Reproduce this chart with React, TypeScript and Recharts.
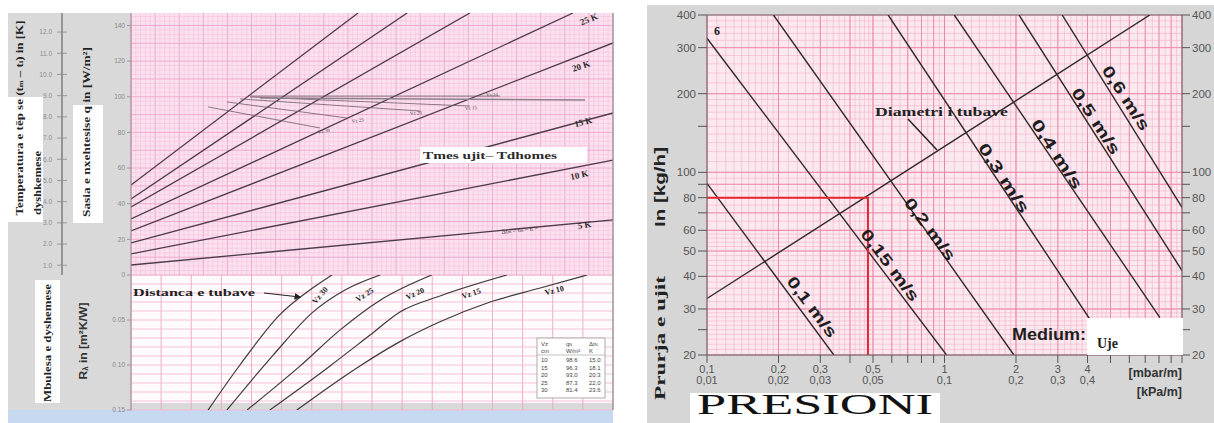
import React from 'react';
import { LineChart, Line, XAxis, YAxis, ReferenceLine } from 'recharts';

// ---------- Upper-left nomogram: heat flux q [W/m²] ----------
const dtNames = ['5 K', '10 K', '15 K', '20 K', '25 K', '30 K', '35 K', '40 K'];
const dtStartQ = [5.6, 11.8, 18.0, 24.7, 31.4, 38.2, 42.6, 50.5];
const dtEndX = [100, 100, 100, 100, 91.7, 70.3, 57.3, 47.1];
const dtEndQ = [30.9, 64.5, 90.9, 130.2, 147, 147, 147, 147];
const qTicks = [0, 20, 40, 60, 80, 100, 120, 140];
const tempTicks = [1, 2, 3, 4, 5, 6, 7, 8, 9, 10, 11, 12];

const vzNames = ['Vz 30', 'Vz 25', 'Vz 20', 'Vz 15', 'Vz 10'];
const vzStartX = [16.0, 19.9, 22.6, 24.7, 24.7];
const vzStartQ = [94.3, 97.1, 98.8, 99.9, 100.4];
const vzEndX = [39.2, 44.8, 60.0, 70.3, 76.6];
const vzEndQ = [82.5, 88.1, 92.0, 94.8, 100.4];
const guideX = [26.8, 94.2];
const guideQ = [99.3, 98.2];

// ---------- Lower-left: floor covering resistance R [m²K/W] ----------
const spacingNames = ['Vz 30', 'Vz 25', 'Vz 20', 'Vz 15', 'Vz 10'];
const spacingX = [
  [16.0, 22.6, 30.9, 37.1, 41.7],
  [19.9, 29.5, 37.8, 44.4, 51.7],
  [24.1, 35.1, 43.4, 51.7, 62.4],
  [28.8, 41.3, 49.6, 55.8, 64.1, 78.0],
  [34.4, 47.5, 55.8, 64.1, 74.5, 84.9, 94.6],
];
const spacingR = [
  [0.15, 0.1, 0.044, 0.0167, 0],
  [0.15, 0.089, 0.041, 0.0167, 0],
  [0.15, 0.101, 0.061, 0.028, 0],
  [0.15, 0.101, 0.0667, 0.041, 0.0233, 0],
  [0.15, 0.101, 0.074, 0.052, 0.03, 0.0144, 0],
];
const rTicks = [0.05, 0.1, 0.15];
const tableVz = ['10', '15', '20', '25', '30'];
const tableQ = ['98.6', '96.3', '93.0', '87.3', '81.4'];
const tableDt = ['15.0', '18.1', '20.3', '22.0', '23.6'];

// ---------- Right: pressure drop nomogram ----------
const velNames = ['0,1 m/s', '0,15 m/s', '0,2 m/s', '0,3 m/s', '0,4 m/s', '0,5 m/s', '0,6 m/s'];
const velFromX = [0.1, 0.1, 0.1905, 0.579, 1.1, 2.06, 3.13];
const velFromY = [90.8, 326, 400, 400, 400, 400, 400];
const velToX = [0.342, 1.02, 1.96, 5.15, 8.07, 10, 10];
const velToY = [20, 20, 20, 20, 27.8, 42.1, 73.4];
const diamX = [0.1, 7.32];
const diamY = [32.9, 400];
const readX = 0.476;
const readY = 80;

const flowTicks = [20, 25, 30, 40, 50, 60, 70, 80, 90, 100, 150, 200, 300, 400];
const flowLabeled = [20, 30, 40, 50, 60, 80, 100, 200, 300, 400];
const dropTicks = [0.1, 0.2, 0.3, 0.4, 0.5, 0.6, 0.7, 0.8, 0.9, 1, 2, 3, 4, 5, 6, 7, 8, 9, 10];
const dropLabelsMbar: Record<string, string> = { '0.1': '0,1', '0.2': '0,2', '0.3': '0,3', '0.5': '0,5', '1': '1', '2': '2', '3': '3', '4': '4' };
const dropLabelsKpa: Record<string, string> = { '0.1': '0,01', '0.2': '0,02', '0.3': '0,03', '0.5': '0,05', '1': '0,1', '2': '0,2', '3': '0,3', '4': '0,4' };

function range(a: number, b: number, step: number) {
  const out: number[] = [];
  for (let v = a; v <= b + 1e-9; v += step) out.push(+v.toFixed(5));
  return out;
}

const ulGridX = range(0, 100, 1);
const ulGridQ = range(0, 147, 2.5);
const llGridX = range(0, 100, 6.25);
const llGridR = range(0, 0.15, 0.01);
const rGridXMinor = [...range(0.1, 0.2, 0.01), ...range(0.2, 0.5, 0.02), ...range(0.5, 1, 0.05), ...range(1, 2, 0.1), ...range(2, 5, 0.2), ...range(5, 10, 0.5)];
const rGridXMajor = [...range(0.1, 1, 0.1), ...range(1, 10, 1)];
const rGridYMinor = [...range(20, 30, 1), ...range(30, 60, 2), ...range(60, 100, 5), ...range(100, 200, 10), ...range(200, 400, 20)];
const rGridYMajor = [20, 30, 40, 50, 60, 70, 80, 90, 100, 200, 300, 400];

const SANS = "'Liberation Sans', Arial, sans-serif";
const SERIF = "'Liberation Serif', 'Times New Roman', serif";

function QTick(props: any) {
  const { x, y, payload } = props;
  return <text x={x} y={y} dy={2.3} textAnchor="end" fontSize={6.5} fill="#8a8a8a" fontFamily={SANS}>{payload.value}</text>;
}
function TempTick(props: any) {
  const { x, y, payload } = props;
  const ax = x + 7;
  return (
    <g>
      <line x1={ax - 5} x2={ax + 5} y1={y} y2={y} stroke="#8a8a8a" strokeWidth={0.8} />
      <text x={x - 3} y={y} dy={2.3} textAnchor="end" fontSize={6.5} fill="#8a8a8a" fontFamily={SANS}>{payload.value}.0</text>
    </g>
  );
}
function RTick(props: any) {
  const { x, y, payload } = props;
  return <text x={x} y={y} dy={2.3} textAnchor="end" fontSize={6.5} fill="#8a8a8a" fontFamily={SANS}>{payload.value.toFixed(2)}</text>;
}
function FlowTickLeft(props: any) {
  const { x, y, payload } = props;
  if (!flowLabeled.includes(payload.value)) return <g />;
  return <text x={x} y={y} dy={4} textAnchor="end" fontSize={11.5} fill="#555" fontFamily={SANS}>{payload.value}</text>;
}
function FlowTickRight(props: any) {
  const { x, y, payload } = props;
  if (!flowLabeled.includes(payload.value)) return <g />;
  return <text x={x} y={y} dy={4} textAnchor="start" fontSize={11.5} fill="#555" fontFamily={SANS}>{payload.value}</text>;
}
function DropTick(props: any) {
  const { x, y, payload } = props;
  const k = String(payload.value);
  if (!dropLabelsMbar[k]) return <g />;
  return (
    <g fontFamily={SANS} fontSize={11} fill="#555">
      <text x={x} y={y} dy={8} textAnchor="middle">{dropLabelsMbar[k]}</text>
      <text x={x} y={y} dy={19} textAnchor="middle">{dropLabelsKpa[k]}</text>
    </g>
  );
}

const abs = (l: number, t: number, w: number, h: number, bg: string): React.CSSProperties => ({
  position: 'absolute', left: l, top: t, width: w, height: h, background: bg,
});

export default function App() {
  const dtLines = dtNames.map((n, i) => ({ name: n, data: [{ x: 0, q: dtStartQ[i] }, { x: dtEndX[i], q: dtEndQ[i] }] }));
  const vzLines = vzNames.map((n, i) => ({ name: n, data: [{ x: vzStartX[i], q: vzStartQ[i] }, { x: vzEndX[i], q: vzEndQ[i] }] }));
  const guide = guideX.map((x, i) => ({ x, q: guideQ[i] }));
  const spacingLines = spacingNames.map((n, i) => ({ name: n, data: spacingX[i].map((x, j) => ({ x, r: spacingR[i][j] })) }));
  const velLines = velNames.map((n, i) => ({ name: n, data: [{ x: velFromX[i], y: velFromY[i] }, { x: velToX[i], y: velToY[i] }] }));
  const diam = diamX.map((x, i) => ({ x, y: diamY[i] }));
  const reading = [{ x: 0.1, y: readY }, { x: readX, y: readY }, { x: readX, y: 20 }];

  return (
    <div style={{ position: 'absolute', left: 0, top: 0, width: 1214, height: 423, background: '#fff', overflow: 'hidden' }}>
      {/* backgrounds */}
      <div style={abs(8, 13, 605, 397, '#d9d9d9')} />
      <div style={abs(131, 13, 482, 262, '#fbe1ef')} />
      <div style={abs(131, 275, 482, 128, '#fffafc')} />
      <div style={abs(8, 410, 605, 13, '#c6d9f1')} />
      <div style={abs(647, 5, 567, 418, '#d6d6d6')} />
      <div style={abs(707, 15, 475, 340, '#fce9f0')} />

      {/* upper-left chart */}
      <div style={{ position: 'absolute', left: 0, top: 0 }}>
        <LineChart width={614} height={283} margin={{ top: 13, right: 1, bottom: 8, left: 22 }}>
          <XAxis type="number" dataKey="x" domain={[0, 100]} hide allowDataOverflow />
          <YAxis type="number" domain={[0, 147]} ticks={qTicks} width={69} tickSize={4} tick={<QTick />} axisLine={{ stroke: '#9a8a94' }} tickLine={{ stroke: '#9a9a9a' }} allowDataOverflow interval={0} />
          <YAxis yAxisId="t" type="number" domain={[0.54, 12.9]} ticks={tempTicks} width={40} tickSize={5} tickLine={false} tick={<TempTick />} axisLine={{ stroke: '#666', strokeWidth: 1.2 }} allowDataOverflow interval={0} />
          {ulGridX.map((v) => (
            <ReferenceLine key={'ux' + v} x={v} stroke={v % 5 === 0 ? '#ee9ec6' : '#f5bcd9'} strokeWidth={v % 5 === 0 ? 0.8 : 0.5} />
          ))}
          {ulGridQ.map((v) => (
            <ReferenceLine key={'uq' + v} y={v} stroke={v % 10 === 0 ? '#ee9ec6' : '#f5bcd9'} strokeWidth={v % 10 === 0 ? 0.8 : 0.5} />
          ))}
          {dtLines.map((l) => (
            <Line key={l.name} data={l.data} dataKey="q" type="linear" stroke="#4a3a4a" strokeWidth={1.3} dot={false} isAnimationActive={false} />
          ))}
          {vzLines.map((l) => (
            <Line key={l.name} data={l.data} dataKey="q" type="linear" stroke="#6d5d68" strokeWidth={0.8} dot={false} isAnimationActive={false} />
          ))}
          <Line data={guide} dataKey="q" type="linear" stroke="#8a8088" strokeWidth={1.6} dot={false} isAnimationActive={false} />
        </LineChart>
      </div>

      {/* lower-left chart */}
      <div style={{ position: 'absolute', left: 0, top: 275 }}>
        <LineChart width={614} height={140} margin={{ top: 0, right: 1, bottom: 5, left: 62 }}>
          <XAxis type="number" dataKey="x" domain={[0, 100]} hide allowDataOverflow />
          <YAxis type="number" reversed domain={[0, 0.15]} ticks={rTicks} width={69} tickSize={4} tick={<RTick />} axisLine={{ stroke: '#9a8a94' }} tickLine={{ stroke: '#9a9a9a' }} allowDataOverflow interval={0} />
          {llGridX.map((v) => (
            <ReferenceLine key={'lx' + v} x={v} stroke="#f0a3c6" strokeWidth={0.9} />
          ))}
          {llGridR.map((v) => (
            <ReferenceLine key={'lr' + v} y={v} stroke="#f3b5d2" strokeWidth={0.8} />
          ))}
          {spacingLines.map((l) => (
            <Line key={l.name} data={l.data} dataKey="r" type="monotone" stroke="#3a3a3a" strokeWidth={1.2} dot={false} isAnimationActive={false} />
          ))}
        </LineChart>
      </div>

      {/* right chart */}
      <div style={{ position: 'absolute', left: 647, top: 0 }}>
        <LineChart width={567} height={423} margin={{ top: 15, right: 0, bottom: 0, left: 0 }}>
          <XAxis type="number" dataKey="x" scale="log" domain={[0.1, 10]} ticks={dropTicks} interval={0} height={68} tickSize={8} tick={<DropTick />} axisLine={{ stroke: '#666' }} tickLine={{ stroke: '#555' }} allowDataOverflow />
          <YAxis yAxisId="l" type="number" scale="log" domain={[20, 400]} ticks={flowTicks} interval={0} width={60} tickSize={9} tick={<FlowTickLeft />} axisLine={{ stroke: '#666' }} tickLine={{ stroke: '#555' }} allowDataOverflow />
          <YAxis yAxisId="r" orientation="right" type="number" scale="log" domain={[20, 400]} ticks={flowTicks} interval={0} width={32} tickSize={8} tick={<FlowTickRight />} axisLine={{ stroke: '#666' }} tickLine={{ stroke: '#555' }} allowDataOverflow />
          {rGridXMinor.map((v) => (
            <ReferenceLine key={'rxm' + v} yAxisId="l" x={v} stroke="#f4b0c7" strokeWidth={0.6} />
          ))}
          {rGridYMinor.map((v) => (
            <ReferenceLine key={'rym' + v} yAxisId="l" y={v} stroke="#f4b0c7" strokeWidth={0.6} />
          ))}
          {rGridXMajor.map((v) => (
            <ReferenceLine key={'rxM' + v} yAxisId="l" x={v} stroke="#ec86a7" strokeWidth={0.9} />
          ))}
          {rGridYMajor.map((v) => (
            <ReferenceLine key={'ryM' + v} yAxisId="l" y={v} stroke="#ec86a7" strokeWidth={0.9} />
          ))}
          <ReferenceLine yAxisId="l" y={400} stroke="#777" strokeWidth={1} />
          {velLines.map((l) => (
            <Line key={l.name} yAxisId="l" data={l.data} dataKey="y" type="linear" stroke="#2e2a2c" strokeWidth={1.4} dot={false} isAnimationActive={false} />
          ))}
          <Line yAxisId="l" data={diam} dataKey="y" type="linear" stroke="#2e2a2c" strokeWidth={1.4} dot={false} isAnimationActive={false} />
          <Line yAxisId="l" data={reading} dataKey="y" type="linear" stroke="#e3262f" strokeWidth={2} dot={false} isAnimationActive={false} />
        </LineChart>
      </div>

      {/* annotations */}
      <svg width={1214} height={423} style={{ position: 'absolute', left: 0, top: 0, pointerEvents: 'none' }}>
        <defs>
          <marker id="arr" markerWidth="6" markerHeight="6" refX="5" refY="3" orient="auto">
            <path d="M0,0 L6,3 L0,6 z" fill="#222" />
          </marker>
        </defs>
        <line x1={613} y1={13} x2={613} y2={410} stroke="#8f8f8f" strokeWidth={1.2} />

        {/* left panel axis titles */}
        <rect x={8} y={97} width={35} height={125} fill="#fff" />
        <rect x={73} y={105} width={30} height={118} fill="#fff" />
        <rect x={35} y={280} width={25} height={123} fill="#fff" />
        <g fontFamily={SERIF} fontWeight="bold" fill="#222">
          <text x={19} y={118} transform="rotate(-90 19 118)" textAnchor="middle" dominantBaseline="central" fontSize={11} textLength={195} lengthAdjust="spacingAndGlyphs">
            Temperatura e tëp se (t<tspan fontSize={7} dy={2}>m</tspan><tspan dy={-2}> – t</tspan><tspan fontSize={7} dy={2}>i</tspan><tspan dy={-2}>) in [K]</tspan>
          </text>
          <text x={37} y={183} transform="rotate(-90 37 183)" textAnchor="middle" dominantBaseline="central" fontSize={11} textLength={64} lengthAdjust="spacingAndGlyphs">dyshkemese</text>
          <text x={86} y={132} transform="rotate(-90 86 132)" textAnchor="middle" dominantBaseline="central" fontSize={11} textLength={170} lengthAdjust="spacingAndGlyphs">Sasia e nxehtesise  q in [W/m²]</text>
          <text x={47} y={343} transform="rotate(-90 47 343)" textAnchor="middle" dominantBaseline="central" fontSize={11} textLength={118} lengthAdjust="spacingAndGlyphs">Mbulesa e dyshemese</text>
        </g>
        <text x={83} y={341} transform="rotate(-90 83 341)" textAnchor="middle" dominantBaseline="central" fontSize={11} fontWeight="bold" fontFamily={SANS} fill="#333" textLength={77} lengthAdjust="spacingAndGlyphs">R<tspan fontSize={7} dy={2}>λ</tspan><tspan dy={-2}> in [m²K/W]</tspan></text>

        {/* upper-left labels */}
        <rect x={420} y={147} width={167} height={16} fill="#fff" />
        <g fontFamily={SERIF} fontWeight="bold" fill="#2a2a2a">
          <text x={423} y={159} fontSize={11} textLength={134} lengthAdjust="spacingAndGlyphs">Tmes ujit– Tdhomes</text>
          <text x={582} y={69} fontSize={9} textAnchor="middle" transform="rotate(-18 582 69)">20 K</text>
          <text x={584} y={125} fontSize={9} textAnchor="middle" transform="rotate(-14 584 125)">15 K</text>
          <text x={580} y={178} fontSize={9} textAnchor="middle" transform="rotate(-12 580 178)">10 K</text>
          <text x={590} y={22} fontSize={9} textAnchor="middle" transform="rotate(-22 590 22)">25 K</text>
          <text x={585} y={228} fontSize={9} textAnchor="middle" transform="rotate(-8 585 228)">5 K</text>
          <text x={520} y={232} fontSize={6.5} fontWeight="normal" textAnchor="middle" transform="rotate(-6 520 232)">Δt<tspan fontSize={4.5}>m</tspan> = t<tspan fontSize={4.5}>m</tspan> – t<tspan fontSize={4.5}>i</tspan> =</text>
        </g>
        <g fontFamily={SERIF} fontSize={5} fill="#444">
          <text x={318} y={134} transform="rotate(-10 318 134)">Vz 30</text>
          <text x={352} y={123} transform="rotate(-8 352 123)">Vz 25</text>
          <text x={410} y={115} transform="rotate(-5 410 115)">Vz 20</text>
          <text x={465} y={110} transform="rotate(-4 465 110)">Vz 15</text>
          <text x={486} y={96}>Vz 10</text>
        </g>

        {/* lower-left labels */}
        <g fontFamily={SERIF} fontWeight="bold" fill="#222">
          <text x={133} y={296} fontSize={10} textLength={122} lengthAdjust="spacingAndGlyphs">Distanca e tubave</text>
          <text x={322} y={297} fontSize={8} textAnchor="middle" transform="rotate(-50 322 297)">Vz 30</text>
          <text x={366} y={297} fontSize={8} textAnchor="middle" transform="rotate(-32 366 297)">Vz 25</text>
          <text x={416} y={296} fontSize={8} textAnchor="middle" transform="rotate(-24 416 296)">Vz 20</text>
          <text x={472} y={296} fontSize={8} textAnchor="middle" transform="rotate(-18 472 296)">Vz 15</text>
          <text x={555} y={293} fontSize={8} textAnchor="middle" transform="rotate(-14 555 293)">Vz 10</text>
        </g>
        <line x1={264} y1={293} x2={300} y2={297} stroke="#222" strokeWidth={1.1} markerEnd="url(#arr)" />
        <rect x={537} y={338} width={68} height={60} fill="#fff" stroke="#999" strokeWidth={0.8} />
        <line x1={537} y1={355} x2={605} y2={355} stroke="#999" strokeWidth={0.6} />
        <g fontFamily={SANS} fontSize={6} fill="#444">
          <text x={541} y={346}>Vz</text>
          <text x={566} y={346}>q<tspan fontSize={4}>N</tspan></text>
          <text x={589} y={346}>Δt<tspan fontSize={4}>N</tspan></text>
          <text x={541} y={353}>cm</text>
          <text x={566} y={353}>W/m²</text>
          <text x={589} y={353}>K</text>
          {tableVz.map((v, i) => (
            <g key={'tr' + v}>
              <text x={541} y={362 + i * 7.5}>{v}</text>
              <text x={566} y={362 + i * 7.5}>{tableQ[i]}</text>
              <text x={589} y={362 + i * 7.5}>{tableDt[i]}</text>
            </g>
          ))}
        </g>

        {/* right panel labels */}
        <text x={714} y={35} fontFamily={SERIF} fontWeight="bold" fontSize={12} fill="#222">6</text>
        <text x={875} y={116} fontFamily={SERIF} fontWeight="bold" fontSize={13} fill="#222" textLength={133} lengthAdjust="spacingAndGlyphs">Diametri  i  tubave</text>
        <line x1={908} y1={119} x2={937} y2={150} stroke="#222" strokeWidth={1.5} />
        <g fontFamily={SANS} fontWeight="bold" fontSize={16} fill="#1e1e1e" dominantBaseline="central" textAnchor="middle">
          <text x={812} y={307} transform="rotate(53 812 307)" textLength={72} lengthAdjust="spacingAndGlyphs">0,1 m/s</text>
          <text x={890} y={265} transform="rotate(53 890 265)" textLength={86} lengthAdjust="spacingAndGlyphs">0,15 m/s</text>
          <text x={930} y={229} transform="rotate(53 930 229)" textLength={74} lengthAdjust="spacingAndGlyphs">0,2 m/s</text>
          <text x={1004} y={178} transform="rotate(57 1004 178)" textLength={80} lengthAdjust="spacingAndGlyphs">0,3 m/s</text>
          <text x={1057} y={154} transform="rotate(57 1057 154)" textLength={80} lengthAdjust="spacingAndGlyphs">0,4 m/s</text>
          <text x={1096} y={121} transform="rotate(57 1096 121)" textLength={76} lengthAdjust="spacingAndGlyphs">0,5 m/s</text>
          <text x={1126} y={98} transform="rotate(57 1126 98)" textLength={74} lengthAdjust="spacingAndGlyphs">0,6 m/s</text>
        </g>
        <rect x={1087} y={318} width={96} height={37} fill="#fff" />
        <text x={1012} y={340} fontFamily={SANS} fontWeight="bold" fontSize={16} fill="#1e1e1e" textLength={74} lengthAdjust="spacingAndGlyphs">Medium:</text>
        <text x={1097} y={348} fontFamily={SERIF} fontWeight="bold" fontSize={14} fill="#222">Uje</text>
        <g fontFamily={SANS} fontWeight="bold" fontSize={12.5} fill="#333" textAnchor="end">
          <text x={1182} y={377}>[mbar/m]</text>
          <text x={1182} y={396}>[kPa/m]</text>
        </g>
        <text x={660} y={187} transform="rotate(-90 660 187)" textAnchor="middle" dominantBaseline="central" fontFamily={SANS} fontWeight="bold" fontSize={14} fill="#222" textLength={80} lengthAdjust="spacingAndGlyphs">In [kg/h]</text>
        <text x={660} y={338} transform="rotate(-90 660 338)" textAnchor="middle" dominantBaseline="central" fontFamily={SERIF} fontWeight="bold" fontSize={15} fill="#222" textLength={124} lengthAdjust="spacingAndGlyphs">Prurja  e  ujit</text>
        <rect x={690} y={393} width={250} height={30} fill="#fff" />
        <text x={697} y={414} fontFamily={SERIF} fontSize={29} fill="#111" textLength={236} lengthAdjust="spacingAndGlyphs">PRESIONI</text>
      </svg>
    </div>
  );
}
